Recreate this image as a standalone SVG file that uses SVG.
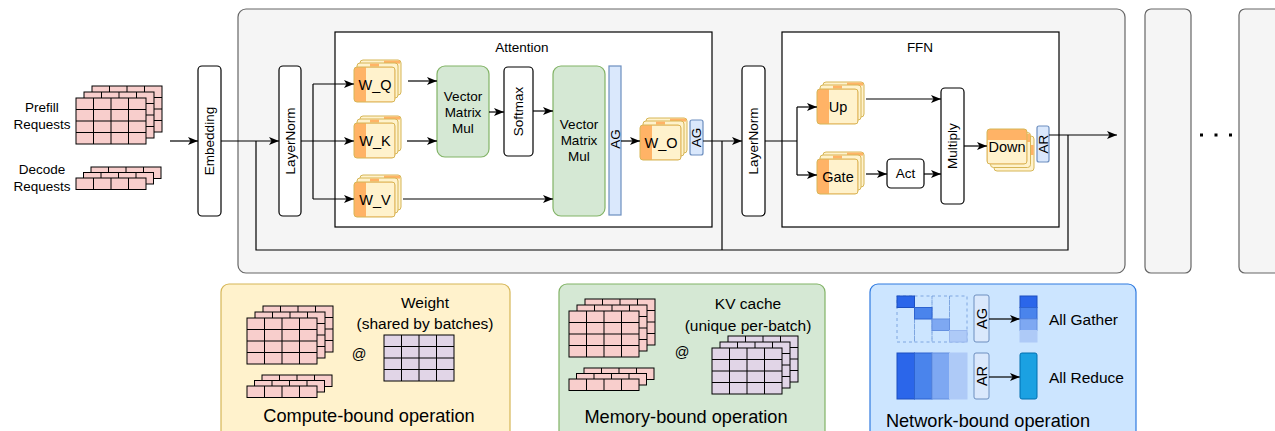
<svg xmlns="http://www.w3.org/2000/svg" xmlns:xlink="http://www.w3.org/1999/xlink" width="1275" height="431" viewBox="0 0 1275 431">
<style>
text{font-family:"Liberation Sans",Arial,Helvetica,sans-serif;fill:#000;}
.t13{font-size:13.5px;}
.t14{font-size:14.5px;}
.t15{font-size:15.5px;}
.t18{font-size:18.2px;}
.c{text-anchor:middle;dominant-baseline:central;}
.l{text-anchor:start;dominant-baseline:central;}
.blk{fill:#fff;stroke:#000;stroke-width:1.2;}
.grn{fill:#d5e8d4;stroke:#82b366;stroke-width:1.2;}
.bl{fill:#dae8fc;stroke:#6c8ebf;stroke-width:1.2;}
.con{fill:none;stroke:#000;stroke-width:1.2;}
.arr{marker-end:url(#ah);}
.pink{fill:#f8cecc;stroke:#000;stroke-width:1;}
.purp{fill:#e1d5e7;stroke:#000;stroke-width:1;}
.gl{fill:none;}
.layer{fill:#f5f5f5;stroke:#666;stroke-width:1.2;}
</style>
<defs>
<marker id="ah" markerUnits="userSpaceOnUse" markerWidth="11" markerHeight="8" refX="10" refY="4" orient="auto">
<path d="M0,0 L10,4 L0,8 L2.5,4 z" fill="#000"/>
</marker>
<g id="g4x4"><rect width="70" height="46"/><path class="gl" d="M17.5,0V46M35,0V46M52.5,0V46M0,11.5H70M0,23H70M0,34.5H70"/></g>
<g id="stack4x4"><use xlink:href="#g4x4" x="16" y="-12"/><use xlink:href="#g4x4" x="8" y="-6"/><use xlink:href="#g4x4"/></g>
<g id="row4"><rect width="70" height="11.5"/><path class="gl" d="M17.5,0V11.5M35,0V11.5M52.5,0V11.5"/></g>
<g id="stackrow"><use xlink:href="#row4" x="15" y="-11"/><use xlink:href="#row4" x="7.5" y="-5.5"/><use xlink:href="#row4"/></g>
<g id="wcard">
<rect x="6" y="-7" width="41" height="35" rx="3" fill="#fff2cc" stroke="#d6b656"/>
<rect x="30" y="-6.4" width="16" height="3" fill="#ffb366"/>
<rect x="3" y="-4" width="41" height="35" rx="3" fill="#fff2cc" stroke="#d6b656"/>
<rect x="16" y="-3.4" width="9" height="3" fill="#ffb366"/>
<rect x="0" y="0" width="41" height="35" rx="3" fill="#ffb366"/>
<rect x="12" y="0.5" width="28.5" height="34" fill="#fff2cc"/>
<rect x="0" y="0" width="41" height="35" rx="3" fill="none" stroke="#d6b656"/>
</g>
<g id="dcard">
<rect x="7" y="7" width="40" height="35" rx="3" fill="#fff2cc" stroke="#d6b656"/>
<rect x="43.6" y="16" width="3" height="10" fill="#ffb366"/>
<rect x="3.5" y="3.5" width="40" height="35" rx="3" fill="#fff2cc" stroke="#d6b656"/>
<rect x="40.1" y="5" width="3" height="8" fill="#ffb366"/>
<rect x="0" y="0" width="40" height="35" rx="3" fill="#ffb366"/>
<rect x="0.5" y="11" width="39" height="23.5" fill="#fff2cc"/>
<rect x="0" y="0" width="40" height="35" rx="3" fill="none" stroke="#d6b656"/>
</g>
</defs>

<rect x="0" y="0" width="1275" height="431" fill="#fff"/>

<!-- layer containers -->
<g id="layer1"><rect class="layer" x="238" y="9" width="887" height="264" rx="8"/></g>
<g id="layer2"><rect class="layer" x="1145" y="9" width="46" height="264" rx="6"/></g>
<g id="layer3"><rect class="layer" x="1239" y="9" width="50" height="264" rx="6"/></g>
<g id="dots"><rect x="1200" y="133.5" width="3" height="3"/><rect x="1214.5" y="133.5" width="3" height="3"/><rect x="1229" y="133.5" width="3" height="3"/></g>

<!-- inputs -->
<g id="prefill">
<use xlink:href="#stack4x4" class="pink" x="76" y="98"/>
<text class="t13 c" x="42" y="107">Prefill</text>
<text class="t13 c" x="42" y="124">Requests</text>
</g>
<g id="decode">
<use xlink:href="#stackrow" class="pink" x="76" y="178"/>
<text class="t13 c" x="42" y="169">Decode</text>
<text class="t13 c" x="42" y="186">Requests</text>
</g>

<g id="embedding"><rect class="blk" x="198" y="66" width="23" height="150" rx="4"/><text class="t13 c" transform="rotate(-90 209.5 141)" x="209.5" y="141">Embedding</text></g>
<g id="layernorm1"><rect class="blk" x="279" y="66" width="22" height="150" rx="4"/><text class="t13 c" transform="rotate(-90 290 141)" x="290" y="141">LayerNorm</text></g>

<g id="attention"><rect x="335" y="32" width="377" height="195" fill="#fff" stroke="#000" stroke-width="1.2"/><text class="t13 c" x="522" y="47">Attention</text></g>
<g id="ffn"><rect x="782" y="32" width="277" height="195" fill="#fff" stroke="#000" stroke-width="1.2"/><text class="t13 c" x="920" y="47">FFN</text></g>

<g id="wq"><use xlink:href="#wcard" x="354" y="67"/><text class="t14 c" x="375" y="84.5">W_Q</text></g>
<g id="wk"><use xlink:href="#wcard" x="354" y="123"/><text class="t14 c" x="375" y="140.5">W_K</text></g>
<g id="wv"><use xlink:href="#wcard" x="354" y="182"/><text class="t14 c" x="375" y="199.5">W_V</text></g>

<g id="vmm1"><rect class="grn" x="437" y="66" width="52" height="91" rx="8"/><text class="t13 c" x="463" y="96">Vector</text><text class="t13 c" x="463" y="112">Matrix</text><text class="t13 c" x="463" y="128">Mul</text></g>
<g id="softmax"><rect class="blk" x="504" y="67" width="29" height="89" rx="4"/><text class="t13 c" transform="rotate(-90 518.5 111.5)" x="518.5" y="111.5">Softmax</text></g>
<g id="vmm2"><rect class="grn" x="553" y="66" width="52" height="150" rx="8"/><text class="t13 c" x="579" y="124">Vector</text><text class="t13 c" x="579" y="140">Matrix</text><text class="t13 c" x="579" y="156">Mul</text></g>
<g id="ag1"><rect class="bl" x="609" y="66" width="12" height="149"/><text class="t13 c" transform="rotate(-90 615 139)" x="615" y="139">AG</text></g>
<g id="wo"><use xlink:href="#wcard" x="640" y="125"/><text class="t14 c" x="661" y="142.5">W_O</text></g>
<g id="ag2"><rect class="bl" x="690" y="120" width="13" height="35" rx="2"/><text class="t13 c" transform="rotate(-90 696.5 137.5)" x="696.5" y="137.5">AG</text></g>

<g id="layernorm2"><rect class="blk" x="742" y="66" width="23" height="150" rx="4"/><text class="t13 c" transform="rotate(-90 753.5 141)" x="753.5" y="141">LayerNorm</text></g>
<g id="up"><use xlink:href="#wcard" x="817" y="89"/><text class="t14 c" x="838" y="106.5">Up</text></g>
<g id="gate"><use xlink:href="#wcard" x="817" y="159"/><text class="t14 c" x="838" y="176.5">Gate</text></g>
<g id="act"><rect class="blk" x="887" y="159" width="37" height="29" rx="4"/><text class="t13 c" x="905.5" y="173.5">Act</text></g>
<g id="multiply"><rect class="blk" x="941" y="88" width="23" height="116" rx="4"/><text class="t13 c" transform="rotate(-90 952.5 146)" x="952.5" y="146">Multiply</text></g>
<g id="down"><use xlink:href="#dcard" x="987" y="129"/><text class="t14 c" x="1007" y="146.5">Down</text></g>
<g id="ar1"><rect class="bl" x="1037" y="126" width="12" height="36" rx="2"/><text class="t13 c" transform="rotate(-90 1043 144)" x="1043" y="144">AR</text></g>

<!-- connectors -->
<g id="connectors">
<path class="con arr" d="M170,141 H198"/>
<path class="con arr" d="M221,141 H279"/>
<path class="con" d="M256,141 V250 H1068 V135"/>
<path class="con" d="M722,141 V250"/>
<path class="con" d="M301,141 H313 M313,84 V199"/>
<path class="con arr" d="M313,84 H354"/>
<path class="con arr" d="M313,141 H354"/>
<path class="con arr" d="M313,199 H354"/>
<path class="con arr" d="M408,81 H437"/>
<path class="con arr" d="M407,141 H437"/>
<path class="con arr" d="M489,112 H504"/>
<path class="con arr" d="M533,111 H553"/>
<path class="con arr" d="M403,199 H553"/>
<path class="con arr" d="M621,141 H640"/>
<path class="con arr" d="M703,141 H742"/>
<path class="con" d="M765,141 H797 M797,107 V175"/>
<path class="con arr" d="M797,107 H817"/>
<path class="con arr" d="M797,175 H817"/>
<path class="con arr" d="M866,99 H941"/>
<path class="con arr" d="M866,174 H887"/>
<path class="con arr" d="M924,174 H941"/>
<path class="con arr" d="M964,146 H987"/>
<path class="con arr" d="M1049,135 H1117"/>
</g>

<!-- legend: compute -->
<g id="compute-legend">
<rect x="221" y="284" width="289" height="160" rx="8" fill="#fff2cc" stroke="#d6b656" stroke-width="1.2"/>
<use xlink:href="#stack4x4" class="pink" x="247" y="318"/>
<use xlink:href="#stackrow" class="pink" x="247" y="386"/>
<text class="t14 c" x="359" y="354">@</text>
<use xlink:href="#g4x4" class="purp" x="384" y="335"/>
<text class="t15 c" x="425" y="302">Weight</text>
<text class="t15 c" x="425" y="323">(shared by batches)</text>
<text class="t18 c" x="369" y="416">Compute-bound operation</text>
</g>

<!-- legend: memory -->
<g id="memory-legend">
<rect x="559" y="284" width="266" height="160" rx="8" fill="#d5e8d4" stroke="#82b366" stroke-width="1.2"/>
<use xlink:href="#stack4x4" class="pink" x="569" y="311"/>
<use xlink:href="#stackrow" class="pink" x="569" y="379"/>
<text class="t14 c" x="682" y="352">@</text>
<use xlink:href="#stack4x4" class="purp" x="712" y="348"/>
<text class="t15 c" x="748" y="303">KV cache</text>
<text class="t15 c" x="748" y="325">(unique per-batch)</text>
<text class="t18 c" x="686" y="417">Memory-bound operation</text>
</g>

<!-- legend: network -->
<g id="network-legend">
<rect x="870" y="284" width="266" height="160" rx="8" fill="#cce5ff" stroke="#2f7ae0" stroke-width="1.2"/>
<g fill="none" stroke="#7ea6e0" stroke-width="1" stroke-dasharray="3,3">
<rect x="897" y="296" width="17.5" height="46"/>
<rect x="914.5" y="296" width="17.5" height="46"/>
<rect x="932" y="296" width="17.5" height="46"/>
<rect x="949.5" y="296" width="17.5" height="46"/>
</g>
<rect x="897" y="296" width="17.5" height="11.5" fill="#2b66ea" stroke="#1c4fc0"/>
<rect x="914.5" y="307.5" width="17.5" height="11.5" fill="#4a84ec" stroke="#2d63d0"/>
<rect x="932" y="319" width="17.5" height="11.5" fill="#7ea8f2" stroke="#6590e0"/>
<rect x="949.5" y="330.5" width="17.5" height="11.5" fill="#aecaf7" stroke="#9ab8ee"/>
<rect x="974" y="295" width="15" height="47" rx="2" fill="#dae8fc" stroke="#6c8ebf"/>
<text class="t14 c" transform="rotate(-90 981.5 318.5)" x="981.5" y="318.5">AG</text>
<path class="con arr" d="M989,319 H1020"/>
<rect x="1020" y="296" width="17" height="11.5" fill="#2b66ea" stroke="#1c4fc0"/>
<rect x="1020" y="307.5" width="17" height="11.5" fill="#4a84ec" stroke="#2d63d0"/>
<rect x="1020" y="319" width="17" height="11.5" fill="#7ea8f2" stroke="#6590e0"/>
<rect x="1020" y="330.5" width="17" height="11.5" fill="#aecaf7" stroke="#aecaf7"/>
<text class="t15 l" x="1049" y="319">All Gather</text>
<rect x="897" y="353" width="17.5" height="46" fill="#2b66ea" stroke="#1c4fc0"/>
<rect x="914.5" y="353" width="17.5" height="46" fill="#4a84ec" stroke="#2d63d0"/>
<rect x="932" y="353" width="17.5" height="46" fill="#7ea8f2" stroke="#6590e0"/>
<rect x="949.5" y="353" width="17.5" height="46" fill="#aecaf7" stroke="#aecaf7"/>
<rect x="974" y="353" width="15" height="46" rx="2" fill="#dae8fc" stroke="#6c8ebf"/>
<text class="t14 c" transform="rotate(-90 981.5 376)" x="981.5" y="376">AR</text>
<path class="con arr" d="M989,377 H1020"/>
<rect x="1020" y="353" width="17" height="46" rx="2" fill="#1ba1e2" stroke="#006eaf"/>
<text class="t15 l" x="1049" y="377">All Reduce</text>
<text class="t18 c" x="988" y="421">Network-bound operation</text>
</g>
</svg>
